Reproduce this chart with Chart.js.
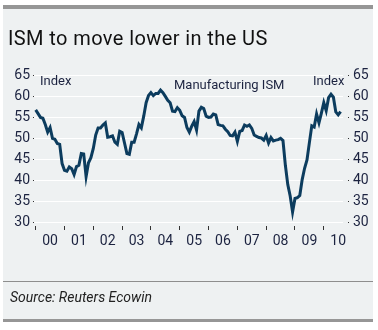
<!DOCTYPE html>
<html>
<head>
<meta charset="utf-8">
<title>ISM to move lower in the US</title>
<script src="https://cdn.jsdelivr.net/npm/chart.js@4.4.1/dist/chart.umd.min.js"></script>
<style>
  body { margin: 0; width: 378px; height: 330px; background: #fff; position: relative; overflow: hidden; font-family: Roboto, "DejaVu Sans", sans-serif; }
  #panel { position: absolute; left: 3px; top: 5px; width: 370px; height: 317px; background: #eef1f2; }
  #topbar { position: absolute; left: 3px; top: 5px; width: 370px; height: 4px; background: #969696; }
  #rule { position: absolute; left: 3px; top: 281px; width: 370px; height: 1px; background: #8e8e8e; }
  #botbar { position: absolute; left: 3px; top: 319px; width: 370px; height: 3px; background: #969696; }
  #chart { position: absolute; left: 0; top: 0; }
  .txt { position: absolute; white-space: nowrap; line-height: 1; }
  #title { left: 8px; top: 28px; font-size: 20px; letter-spacing: 0.4px; color: #111; }
  #source { left: 10px; top: 290px; font-size: 14px; font-style: italic; color: #222; }
  .note { font-size: 13px; color: #1c2340; }
</style>
</head>
<body>
<div id="panel"></div>
<div id="topbar"></div>
<div id="rule"></div>
<div id="botbar"></div>
<canvas id="chart" width="378" height="330"></canvas>
<div class="txt" id="title">ISM to move lower in the US</div>
<div class="txt note" style="left:40px; top:74px;">Index</div>
<div class="txt note" style="left:174px; top:78px;">Manufacturing ISM</div>
<div class="txt note" style="left:313px; top:74px;">Index</div>
<div class="txt" id="source">Source: Reuters Ecowin</div>
<script>
// Chart data (monthly, Jan 2000 - Aug 2010)
const yearLabels = ["00", "01", "02", "03", "04", "05", "06", "07", "08", "09", "10"];
const yTicks = [30, 35, 40, 45, 50, 55, 60, 65];

const ism2000 = [56.7, 55.8, 54.9, 54.7, 53.2, 51.4, 52.5, 49.9, 49.7, 48.7, 48.5, 43.9];
const ism2001 = [42.3, 42.1, 43.1, 42.7, 41.3, 43.2, 43.5, 46.3, 46.2, 40.8, 44.1, 45.3];
const ism2002 = [47.5, 50.7, 52.4, 52.4, 53.1, 53.6, 50.2, 50.3, 50.5, 49.0, 48.5, 51.6];
const ism2003 = [51.3, 48.8, 46.3, 46.1, 49.0, 49.0, 51.0, 53.2, 52.4, 55.2, 58.4, 60.1];
const ism2004 = [60.8, 60.1, 60.6, 60.6, 61.4, 60.8, 59.9, 59.0, 58.4, 56.4, 56.3, 57.2];
const ism2005 = [56.6, 55.3, 54.9, 52.5, 51.4, 52.8, 53.9, 51.9, 56.4, 57.3, 57.0, 55.2];
const ism2006 = [54.9, 55.0, 55.7, 55.5, 53.2, 53.0, 52.9, 52.1, 51.5, 50.6, 50.5, 51.4];
const ism2007 = [49.2, 51.6, 51.8, 53.1, 52.8, 53.1, 52.3, 50.7, 50.4, 50.1, 50.0, 49.5];
const ism2008 = [50.6, 48.8, 50.1, 49.3, 49.5, 49.6, 49.9, 49.4, 43.5, 38.9, 36.2, 32.4];
const ism2009 = [35.6, 35.8, 36.3, 40.1, 42.8, 44.8, 48.9, 52.9, 52.6, 55.7, 53.6, 55.9];
const ism2010 = [58.4, 56.5, 59.6, 60.4, 59.7, 56.2, 55.5, 56.3];

const ismValues = [].concat(ism2000, ism2001, ism2002, ism2003, ism2004, ism2005,
  ism2006, ism2007, ism2008, ism2009, ism2010);

const labelColor = "#1c2340";
const tickMarkColor = "#333333";

function setYTicks(scale) {
  scale.ticks = yTicks.map(v => ({ value: v }));
}

new Chart(document.getElementById("chart"), {
  type: "line",
  data: {
    datasets: [{
      label: "Manufacturing ISM",
      data: ismValues.map((v, i) => ({ x: i, y: v })),
      borderColor: "#0c3c5e",
      borderWidth: 3,
      pointRadius: 0,
      tension: 0,
      fill: false,
      xAxisID: "x",
      yAxisID: "y"
    }]
  },
  options: {
    responsive: false,
    animation: false,
    layout: { padding: { top: 75, bottom: 78, left: 0, right: 0 } },
    plugins: { legend: { display: false }, tooltip: { enabled: false } },
    scales: {
      x: {
        type: "linear",
        position: "bottom",
        min: -0.7,
        max: 128,
        afterBuildTicks: scale => {
          // half-year steps: tick marks on year starts, labels mid-year
          const ticks = [];
          for (let m = 0; m <= 126; m += 6) ticks.push({ value: m });
          scale.ticks = ticks;
        },
        afterFit: scale => { scale.height = 30; },
        ticks: {
          autoSkip: false,
          maxRotation: 0,
          padding: 3,
          color: labelColor,
          font: { family: "Roboto", size: 14 },
          callback: v => (v % 12 === 6 ? yearLabels[(v - 6) / 12] : "")
        },
        grid: {
          drawOnChartArea: false,
          drawTicks: true,
          tickLength: 8,
          tickWidth: 1,
          tickBorderDash: [0, 4, 4, 0],
          tickColor: ctx => (ctx.tick && ctx.tick.value % 12 === 0 ? tickMarkColor : "rgba(0,0,0,0)")
        },
        border: { display: false }
      },
      y: {
        type: "linear",
        position: "left",
        min: 30,
        max: 65,
        afterBuildTicks: setYTicks,
        afterFit: scale => { scale.width = 34; },
        ticks: { padding: 2, color: labelColor, font: { family: "Roboto", size: 14 } },
        grid: { color: "#ffffff", lineWidth: 1, drawTicks: true, tickLength: 2, tickBorderDash: [0, 1, 1, 0], tickColor: tickMarkColor },
        border: { display: false }
      },
      y2: {
        type: "linear",
        position: "right",
        min: 30,
        max: 65,
        afterBuildTicks: setYTicks,
        afterFit: scale => { scale.width = 35; },
        ticks: { padding: 3, color: labelColor, font: { family: "Roboto", size: 14 } },
        grid: { drawOnChartArea: false, drawTicks: true, tickLength: 7, tickBorderDash: [0, 5, 1, 1], tickColor: tickMarkColor },
        border: { display: false }
      }
    }
  }
});
</script>
</body>
</html>
